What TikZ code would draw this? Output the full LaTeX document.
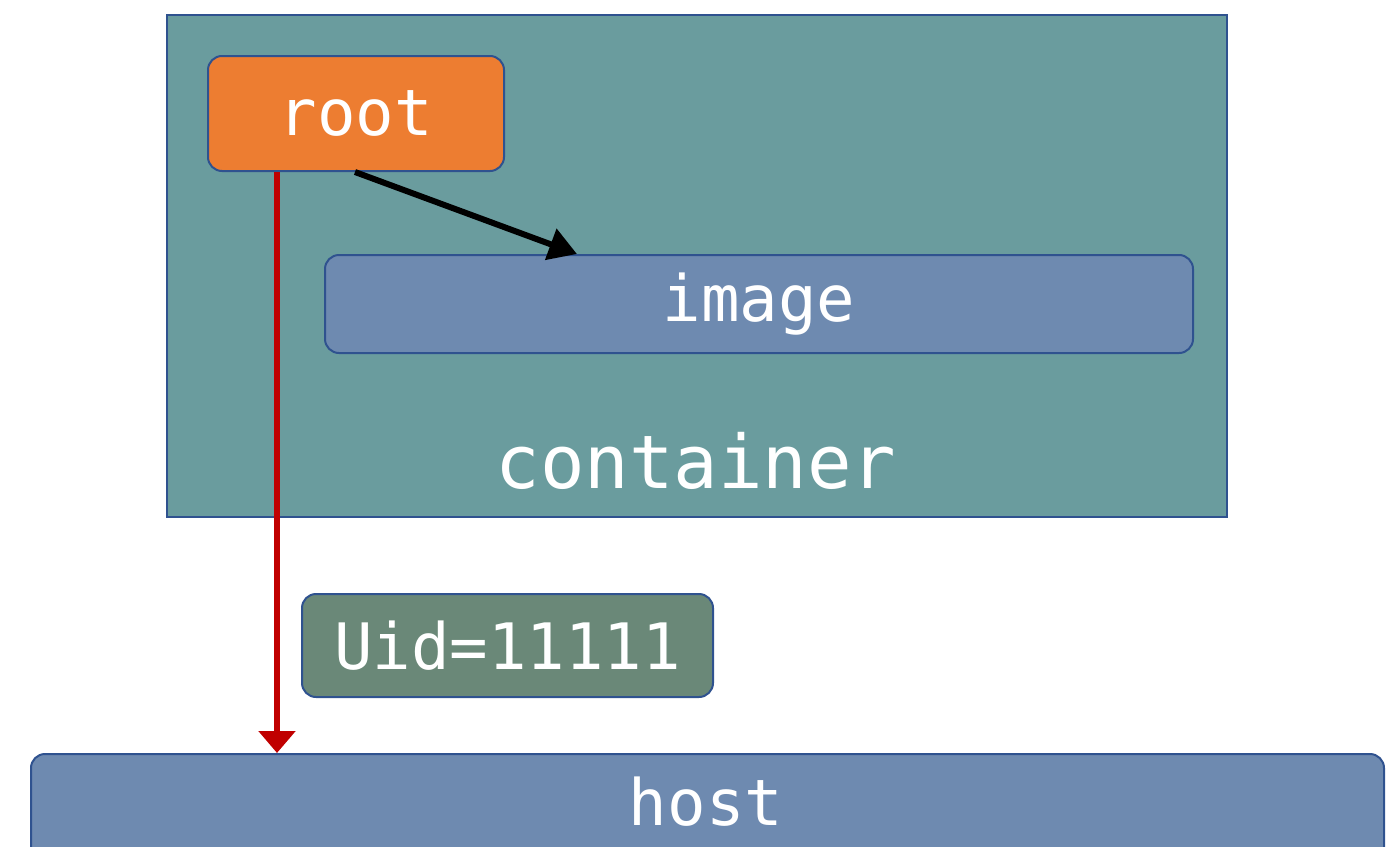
\documentclass[tikz,border=0pt]{standalone}
\usepackage{fontspec}
\newfontfamily\monofont{DejaVu Sans Mono}
\usetikzlibrary{arrows.meta}
\definecolor{edgeblue}{RGB}{47,82,143}
\definecolor{tealfill}{RGB}{106,156,158}
\definecolor{bluefill}{RGB}{110,138,176}
\definecolor{orangefill}{RGB}{237,125,49}
\definecolor{greenfill}{RGB}{106,136,120}
\definecolor{arrowred}{RGB}{192,0,0}
\tikzset{
  box/.style={draw=edgeblue, line width=2pt, rounded corners=14pt, inner sep=0pt,
    text=white, font=\monofont\fontsize{64}{70}\selectfont},
  label/.style={text=white, inner sep=0pt, font=\monofont\fontsize{64}{70}\selectfont},
}
\begin{document}
\begin{tikzpicture}[x=1pt,y=-1pt]
  \useasboundingbox (0,0) rectangle (1394,846);
  % outer container
  \node[draw=edgeblue, line width=2pt, fill=tealfill, minimum width=1060pt, minimum height=502pt,
        inner sep=0pt, anchor=north west] (container) at (166,14) {};
  \node[label, font=\monofont\fontsize{74}{80}\selectfont, anchor=base] (clabel) at (696,488) {container};
  % boxes
  \node[box, fill=orangefill, minimum width=296pt, minimum height=115pt, anchor=north west]
        (root) at (207,55) {root};
  \node[box, fill=bluefill, minimum width=868pt, minimum height=98pt, anchor=north west]
        (image) at (324,254) {image};
  \node[box, fill=greenfill, minimum width=411pt, minimum height=103pt, anchor=north west]
        (uid) at (301,593) {Uid=11111};
  \node[box, fill=bluefill, minimum width=1353pt, minimum height=130pt, anchor=north west]
        (host) at (30,753) {};
  \node[label, anchor=base] (hlabel) at (706,825) {host};
  % connectors
  \coordinate (rs) at ([xshift=70pt]root.south west);
  \draw[arrowred, line width=6pt, -{Triangle[width=36pt,length=22pt]}]
        (rs) -- (rs |- host.north);
  \coordinate (bs) at ([xshift=148pt]root.south west);
  \coordinate (be) at ([xshift=253pt]image.north west);
  \draw[black, line width=6pt, -{Triangle[width=32pt,length=28pt]}] (bs) -- (be);
\end{tikzpicture}
\end{document}
